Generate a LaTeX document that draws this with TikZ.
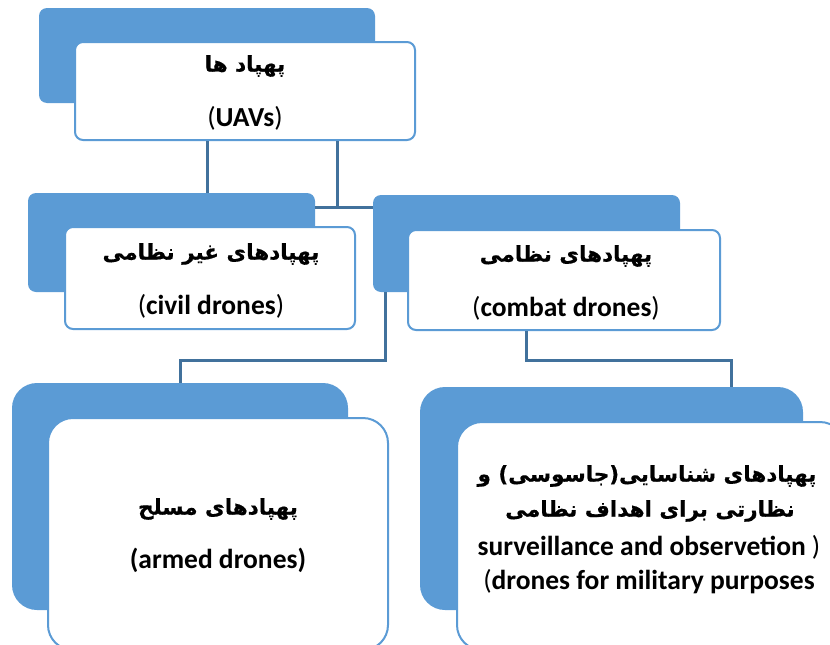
\documentclass[tikz,border=0pt]{standalone}
\usepackage{fontspec}
\setmainfont{Carlito}
\newfontfamily\fa[Script=Arabic,FakeBold=0.6]{DejaVu Sans}
\TeXXeTstate=1
\definecolor{accent}{HTML}{5B9BD5}
\definecolor{conn}{HTML}{41719C}
\newcommand{\thinp}[1]{{\mdseries #1}}
\begin{document}
\begin{tikzpicture}[x=1pt,y=-1pt,
  back/.style={fill=accent, draw=none, rounded corners=8pt, inner sep=0pt, minimum width=#1},
  front/.style={fill=white, draw=accent, line width=2pt, rounded corners=8pt, inner sep=0pt, minimum width=#1},
  link/.style={draw=conn, line width=3pt},
  en/.style={font=\bfseries\fontsize{27.5}{32}\selectfont, inner sep=0pt, anchor=center},
  pe/.style={font=\fa\bfseries\fontsize{21.5}{26}\selectfont, inner sep=0pt, anchor=center}]
\useasboundingbox (0,0) rectangle (830,645);
\clip (0,0) rectangle (830,645);
% top
\node[back=336pt, minimum height=95pt] (topB) at (207,55.5) {};
\node[front=340pt, minimum height=98pt] (topF) at (245,91) {};
\node[pe] (topP) at (245,66) {\beginR پهپاد ها\endR};
\node[en] (topE) at (245,118) {\thinp{(}UAVs\thinp{)}};
% civil
\node[back=287pt, minimum height=99pt] (civB) at (171.5,242.5) {};
\node[front=290pt, minimum height=102pt] (civF) at (210,278) {};
\node[pe] (civP) at (211,254) {\beginR پهپادهای غیر نظامی\endR};
\node[en] (civE) at (211,306) {\thinp{(}civil drones\thinp{)}};
% combat
\node[back=307pt, minimum height=97pt] (comB) at (526.5,243.5) {};
\node[front=312pt, minimum height=100pt] (comF) at (564,280) {};
\node[pe] (comP) at (566,256) {\beginR پهپادهای نظامی\endR};
\node[en] (comE) at (566,308) {\thinp{(}combat drones\thinp{)}};
% armed
\node[back=336pt, minimum height=227pt, rounded corners=25pt] (armB) at (180,496.5) {};
\node[front=340pt, minimum height=232pt, rounded corners=25pt] (armF) at (218,534) {};
\node[pe] (armP) at (218,509) {\beginR پهپادهای مسلح\endR};
\node[en] (armE) at (218,560) {(armed drones)};
% surveillance
\node[back=383pt, minimum height=223pt, rounded corners=25pt] (surB) at (611.5,498.5) {};
\node[front=388pt, minimum height=228pt, rounded corners=25pt] (surF) at (651,536) {};
\node[pe] (surP1) at (647,476) {\beginR پهپادهای شناسایی(جاسوسی) و\endR};
\node[pe] (surP2) at (650,511) {\beginR نظارتی برای اهداف نظامی\endR};
\node[en] (surE1) at (649,547) {surveillance and observetion \thinp{)}};
\node[en] (surE2) at (649,582) {\thinp{(}drones for military purposes};
% connectors
\coordinate (c1) at (207,193);
\coordinate (c2) at (337,207);
\coordinate (c3) at (385,360);
\coordinate (c4) at (180,360);
\coordinate (c5) at (526,360);
\coordinate (c6) at (731,360);
\draw[link] (topF.south -| c1) -- (c1);
\draw[link] (topF.south -| c2) -- (c2);
\draw[link] (civB.east |- c2) -- (comB.west |- c2);
\draw[link] (comB.south -| c3) -- (c3) -- (c4) -- (armB.north -| c4);
\draw[link] (comF.south -| c5) -- (c5) -- (c6) -- (surB.north -| c6);
\end{tikzpicture}
\end{document}
